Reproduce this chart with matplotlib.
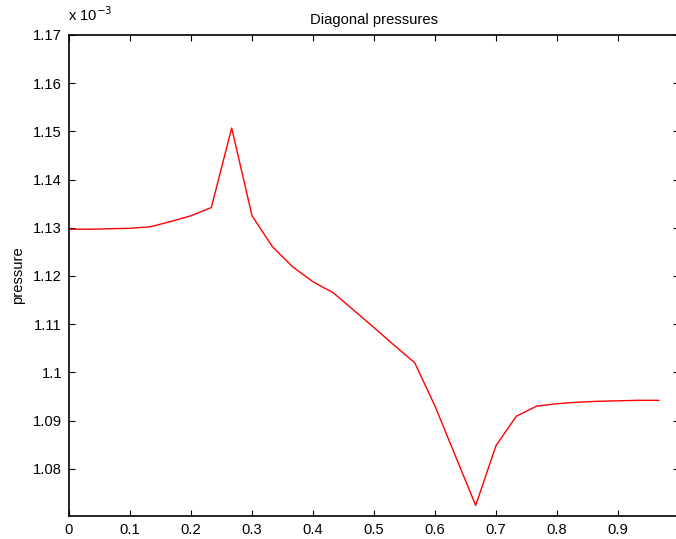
import matplotlib
matplotlib.use("Agg")
import matplotlib.pyplot as plt
import numpy as np

plt.rcParams['font.family'] = ['Liberation Sans', 'DejaVu Sans']

# data (pressure in units of 1e-3)
x = [0.0, 0.0333, 0.0667, 0.1, 0.1333, 0.1667, 0.2, 0.2333, 0.2667, 0.3,
     0.3333, 0.3667, 0.4, 0.4333, 0.4667, 0.5, 0.5333, 0.5667, 0.6, 0.6333,
     0.6667, 0.7, 0.7333, 0.7667, 0.8, 0.8333, 0.8667, 0.9, 0.9333, 0.9667]
pressure = [1.1297, 1.1297, 1.1298, 1.1299, 1.1302, 1.1313, 1.1325, 1.1342, 1.1507, 1.1325,
            1.1261, 1.1219, 1.1188, 1.1165, 1.1129, 1.1093, 1.1056, 1.1020, 1.0930, 1.0827,
            1.0724, 1.0848, 1.0909, 1.0930, 1.0935, 1.0938, 1.0940, 1.0941, 1.0942, 1.0942]
xticks = [0, 0.1, 0.2, 0.3, 0.4, 0.5, 0.6, 0.7, 0.8, 0.9]
xticklabels = ['0', '0.1', '0.2', '0.3', '0.4', '0.5', '0.6', '0.7', '0.8', '0.9']
yticks = [1.08, 1.09, 1.1, 1.11, 1.12, 1.13, 1.14, 1.15, 1.16, 1.17]
yticklabels = ['1.08', '1.09', '1.1', '1.11', '1.12', '1.13', '1.14', '1.15', '1.16', '1.17']

fig = plt.figure(figsize=(6.76, 5.39), dpi=100)
ax = fig.add_axes([69/676, 23/539, 610/676, 481/539])
ax.plot(x, pressure, color='red', linewidth=1.0)
ax.set_xlim(0, 1)
ax.set_ylim(1.0702, 1.17)
ax.set_xticks(xticks)
ax.set_xticklabels(xticklabels)
ax.set_yticks(yticks)
ax.set_yticklabels(yticklabels)
ax.tick_params(direction='in', top=True, right=True, length=4, width=0.8,
               labelsize=10.6, pad=5)
for s in ax.spines.values():
    s.set_linewidth(1.2)
ax.set_title('Diagonal pressures', fontsize=10.6, pad=8)
ax.set_ylabel('pressure', fontsize=10.6, labelpad=6)
fig.text(68/676, 1 - 21/539, r'x 10$^{-3}$', fontsize=10.6, ha='left', va='baseline')

fig.savefig('out.png', dpi=100)
